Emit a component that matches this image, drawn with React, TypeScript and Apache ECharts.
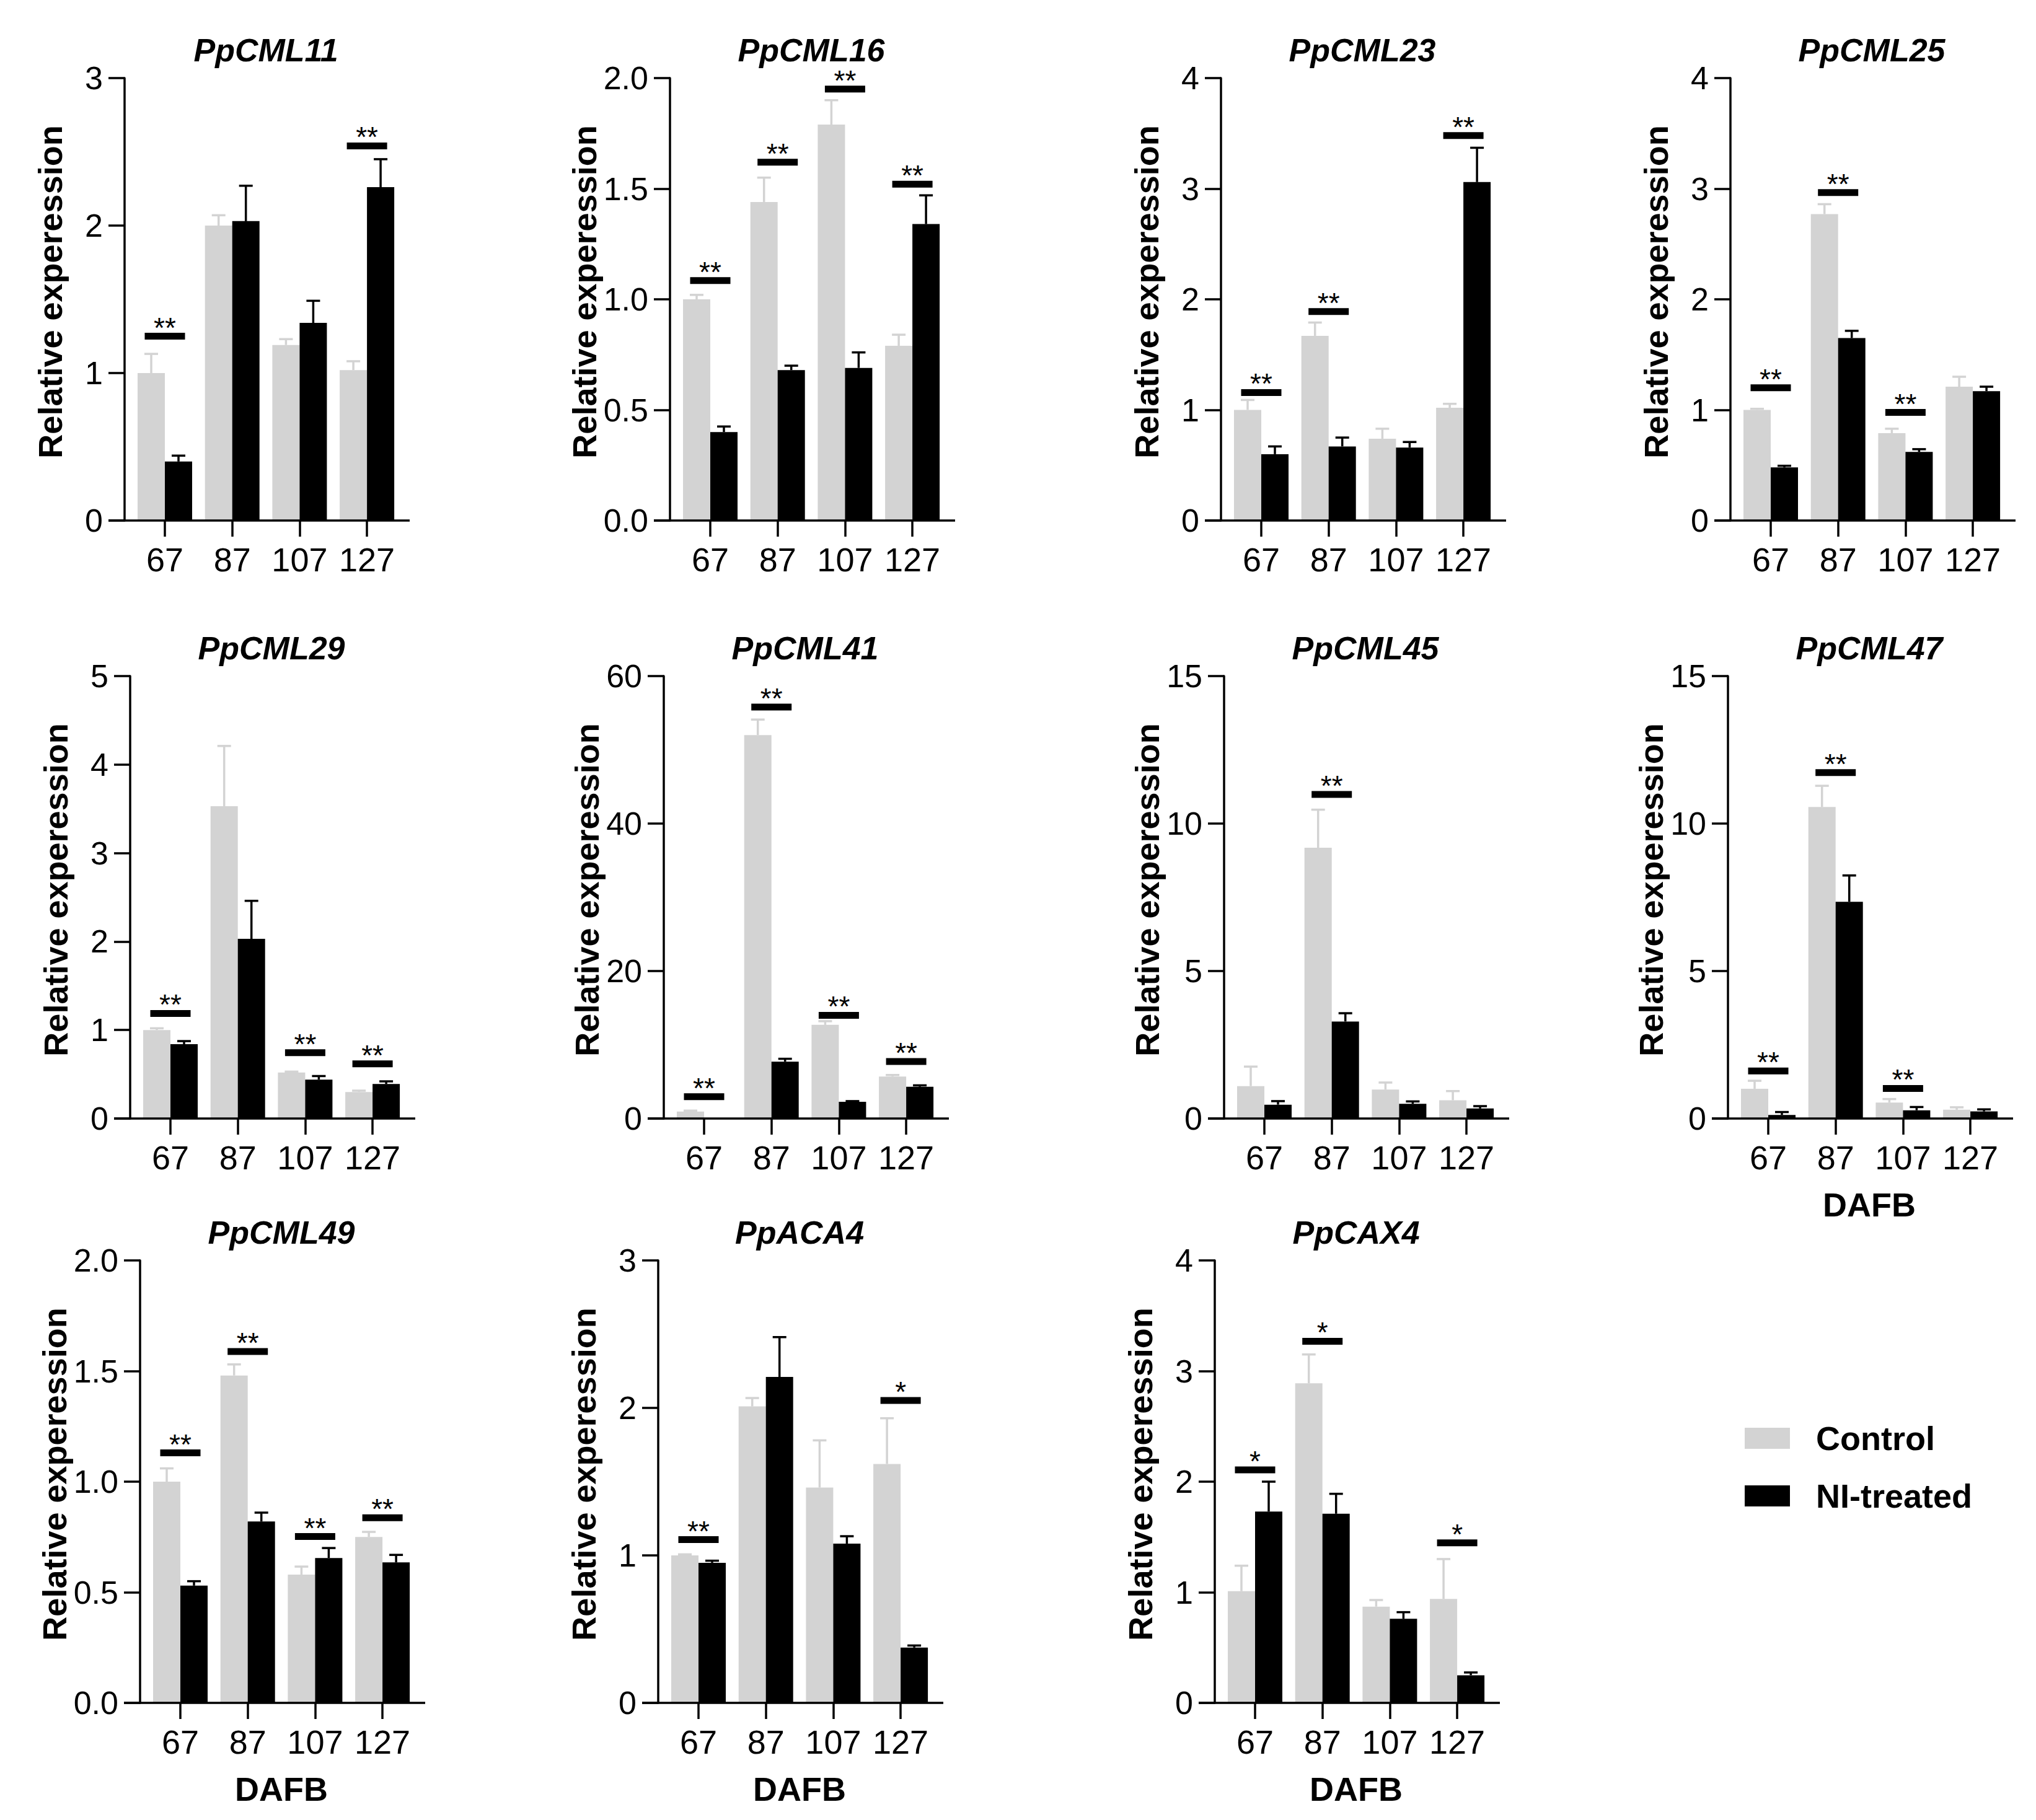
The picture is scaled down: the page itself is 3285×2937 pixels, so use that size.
import * as echarts from 'echarts';
import { useEffect, useRef } from 'react';

const days = ['67', '87', '107', '127'];
const genes = ['PpCML11', 'PpCML16', 'PpCML23', 'PpCML25', 'PpCML29', 'PpCML41', 'PpCML45', 'PpCML47', 'PpCML49', 'PpACA4', 'PpCAX4'];
const yMax = [3, 2, 4, 4, 5, 60, 15, 15, 2, 3, 4];
const yStep = [1, 0.5, 1, 1, 1, 20, 5, 5, 0.5, 1, 1];
const yDecimals = [0, 1, 0, 0, 0, 0, 0, 0, 1, 0, 0];

const controlMean = [
  [1.0, 2.0, 1.19, 1.02],
  [1.0, 1.44, 1.79, 0.79],
  [1.0, 1.67, 0.74, 1.02],
  [1.0, 2.77, 0.79, 1.21],
  [1.0, 3.53, 0.52, 0.3],
  [0.95, 52.0, 12.7, 5.7],
  [1.1, 9.18, 0.98, 0.62],
  [1.01, 10.56, 0.54, 0.3],
  [1.0, 1.48, 0.58, 0.75],
  [1.0, 2.01, 1.46, 1.62],
  [1.01, 2.89, 0.87, 0.94]
];
const controlErr = [
  [0.13, 0.07, 0.04, 0.06],
  [0.02, 0.11, 0.11, 0.05],
  [0.09, 0.12, 0.09, 0.035],
  [0.01, 0.09, 0.04, 0.09],
  [0.02, 0.68, 0.01, 0.015],
  [0.12, 2.1, 0.5, 0.2],
  [0.66, 1.29, 0.24, 0.31],
  [0.27, 0.72, 0.12, 0.08],
  [0.06, 0.05, 0.036, 0.023],
  [0.007, 0.057, 0.32, 0.31],
  [0.23, 0.26, 0.06, 0.36]
];
const treatedMean = [
  [0.4, 2.03, 1.34, 2.26],
  [0.4, 0.68, 0.69, 1.34],
  [0.6, 0.67, 0.66, 3.06],
  [0.48, 1.65, 0.62, 1.17],
  [0.84, 2.03, 0.44, 0.39],
  [0.03, 7.7, 2.26, 4.3],
  [0.47, 3.29, 0.5, 0.34],
  [0.12, 7.35, 0.28, 0.24],
  [0.53, 0.82, 0.655, 0.635],
  [0.95, 2.21, 1.08, 0.375],
  [1.73, 1.71, 0.76, 0.25]
];
const treatedErr = [
  [0.04, 0.24, 0.15, 0.19],
  [0.025, 0.02, 0.07, 0.13],
  [0.07, 0.08, 0.05, 0.31],
  [0.015, 0.065, 0.025, 0.04],
  [0.035, 0.43, 0.04, 0.03],
  [0, 0.4, 0.1, 0.2],
  [0.12, 0.28, 0.08, 0.08],
  [0.1, 0.89, 0.11, 0.07],
  [0.02, 0.04, 0.045, 0.034],
  [0.014, 0.27, 0.05, 0.014],
  [0.27, 0.18, 0.06, 0.025]
];
// significance marks: [category index, bar level, label]
const sigMarks: [number, number, string][][] = [
  [[0, 1.25, '**'], [3, 2.54, '**']],
  [[0, 1.085, '**'], [1, 1.62, '**'], [2, 1.95, '**'], [3, 1.52, '**']],
  [[0, 1.157, '**'], [1, 1.89, '**'], [3, 3.48, '**']],
  [[0, 1.2, '**'], [1, 2.965, '**'], [2, 0.977, '**']],
  [[0, 1.187, '**'], [2, 0.744, '**'], [3, 0.618, '**']],
  [[0, 2.96, '**'], [1, 55.8, '**'], [2, 14.0, '**'], [3, 7.74, '**']],
  [[1, 10.99, '**']],
  [[0, 1.61, '**'], [1, 11.73, '**'], [2, 1.02, '**']],
  [[0, 1.13, '**'], [1, 1.588, '**'], [2, 0.752, '**'], [3, 0.837, '**']],
  [[0, 1.107, '**'], [3, 2.05, '*']],
  [[0, 2.106, '*'], [1, 3.269, '*'], [3, 1.447, '*']]
];
const showDafb = [false, false, false, false, false, false, false, true, true, true, true];

const FONT = "'Liberation Sans', Arial, sans-serif";
const GRAY = '#d3d3d3';
const LINE_W = 3.5;
const BAR_W = 44;
const BAND = 108.7;
const PLOT_H = 714;
const TICK_LEN = 26;
const AXIS_TO_TICK = 65; // y-axis line to first category centre
const AXIS_RUN = 460; // y-axis line to end of the x-axis line

// panel layout (px): first category centre, plot top, y-name gap
const panels = [
  { firstTick: 266, top: 126, nameGap: 93 },
  { firstTick: 1146, top: 126, nameGap: 110 },
  { firstTick: 2035, top: 126, nameGap: 93 },
  { firstTick: 2857, top: 126, nameGap: 93 },
  { firstTick: 275, top: 1091, nameGap: 93 },
  { firstTick: 1136, top: 1091, nameGap: 97 },
  { firstTick: 2040, top: 1091, nameGap: 97 },
  { firstTick: 2853, top: 1091, nameGap: 97 },
  { firstTick: 291, top: 2034, nameGap: 110 },
  { firstTick: 1127, top: 2034, nameGap: 93 },
  { firstTick: 2025, top: 2034, nameGap: 93 }
];

const errorSeries = (i: number, means: number[], errs: number[], color: string, shift: number) => ({
  type: 'custom',
  xAxisIndex: i,
  yAxisIndex: i,
  z: 5,
  silent: true,
  data: means.map((m, k) => [k, m, errs[k]]),
  renderItem: (params: any, api: any) => {
    const k = api.value(0);
    const m = api.value(1);
    const e = api.value(2);
    if (!(e > 0)) return null;
    const base = api.coord([k, m]);
    const tip = api.coord([k, m + e]);
    const cx = base[0] + shift;
    const style = { stroke: color, lineWidth: LINE_W };
    return {
      type: 'group',
      children: [
        { type: 'line', shape: { x1: cx, y1: base[1], x2: cx, y2: tip[1] }, style },
        { type: 'line', shape: { x1: cx - 11, y1: tip[1], x2: cx + 11, y2: tip[1] }, style }
      ]
    };
  }
});

const sigSeries = (i: number) => ({
  type: 'custom',
  xAxisIndex: i,
  yAxisIndex: i,
  z: 6,
  silent: true,
  data: sigMarks[i].map((s) => [s[0], s[1]]),
  renderItem: (params: any, api: any) => {
    const p = api.coord([api.value(0), api.value(1)]);
    const label = sigMarks[i][params.dataIndex][2];
    return {
      type: 'group',
      children: [
        { type: 'rect', shape: { x: p[0] - 32.5, y: p[1] - 5.5, width: 65, height: 11 }, style: { fill: '#000' } },
        {
          type: 'text',
          x: p[0],
          y: p[1] - 14,
          style: {
            text: label,
            fill: '#000',
            fontSize: 46,
            fontFamily: FONT,
            textAlign: 'center',
            textVerticalAlign: 'middle',
            align: 'center',
            verticalAlign: 'middle'
          }
        }
      ]
    };
  }
});

const App: React.FC = () => {
  const chartRef = useRef<HTMLDivElement | null>(null);

  useEffect(() => {
    if (!chartRef.current) return;
    document.body.style.margin = '0';
    const chart = echarts.init(chartRef.current, null, { renderer: 'svg' });

    const grids = panels.map((p) => ({
      left: p.firstTick - BAND / 2,
      top: p.top,
      width: BAND * 4,
      height: PLOT_H,
      containLabel: false
    }));

    const xAxes = panels.map((p, i) => ({
      type: 'category',
      gridIndex: i,
      data: days,
      axisLine: { show: false },
      axisTick: { show: true, alignWithLabel: true, length: TICK_LEN, lineStyle: { color: '#000', width: LINE_W } },
      axisLabel: { interval: 0, margin: 36, color: '#000', fontSize: 54, fontFamily: FONT },
      name: showDafb[i] ? 'DAFB' : '',
      nameLocation: 'middle',
      nameGap: 112,
      nameTextStyle: { color: '#000', fontSize: 54, fontWeight: 'bold', fontFamily: FONT }
    }));

    const yAxes = panels.map((p, i) => ({
      type: 'value',
      gridIndex: i,
      min: 0,
      max: yMax[i],
      interval: yStep[i],
      offset: AXIS_TO_TICK - BAND / 2,
      axisLine: { show: true, lineStyle: { color: '#000', width: LINE_W } },
      axisTick: { show: true, length: TICK_LEN, lineStyle: { color: '#000', width: LINE_W } },
      splitLine: { show: false },
      axisLabel: {
        margin: 35,
        color: '#000',
        fontSize: 52,
        fontFamily: FONT,
        formatter: (v: number) => v.toFixed(yDecimals[i])
      },
      name: 'Relative experession',
      nameLocation: 'middle',
      nameRotate: 90,
      nameGap: p.nameGap,
      nameTextStyle: { color: '#000', fontSize: 54, fontWeight: 'bold', fontFamily: FONT, padding: [0, 0, 0, 24] }
    }));

    const series: any[] = [];
    panels.forEach((p, i) => {
      series.push({
        type: 'bar',
        name: 'Control',
        xAxisIndex: i,
        yAxisIndex: i,
        data: controlMean[i],
        barWidth: BAR_W,
        barGap: '0%',
        itemStyle: { color: GRAY }
      });
      series.push({
        type: 'bar',
        name: 'NI-treated',
        xAxisIndex: i,
        yAxisIndex: i,
        data: treatedMean[i],
        barWidth: BAR_W,
        barGap: '0%',
        itemStyle: { color: '#000' }
      });
      series.push(errorSeries(i, controlMean[i], controlErr[i], GRAY, -BAR_W / 2));
      series.push(errorSeries(i, treatedMean[i], treatedErr[i], '#000', BAR_W / 2));
      series.push(sigSeries(i));
    });

    // x-axis base lines run from the y-axis tick end past the last band
    const baseLines = panels.map((p) => {
      const axisX = p.firstTick - AXIS_TO_TICK;
      return {
        type: 'line',
        shape: { x1: axisX - TICK_LEN, y1: p.top + PLOT_H, x2: axisX + AXIS_RUN, y2: p.top + PLOT_H },
        style: { stroke: '#000', lineWidth: LINE_W },
        z: 10
      };
    });

    // gene names centred over each plot
    const titles = panels.map((p, i) => ({
      type: 'text',
      x: p.firstTick + BAND * 1.5,
      y: p.top - 45,
      style: {
        text: genes[i],
        fill: '#000',
        fontSize: 52,
        fontWeight: 'bold',
        fontStyle: 'italic',
        fontFamily: FONT,
        textAlign: 'center',
        textVerticalAlign: 'middle',
        align: 'center',
        verticalAlign: 'middle'
      }
    }));

    const option: any = {
      animation: false,
      backgroundColor: '#fff',
      grid: grids,
      xAxis: xAxes,
      yAxis: yAxes,
      series,
      graphic: [...baseLines, ...titles],
      legend: {
        orient: 'vertical',
        left: 2810,
        top: 2289,
        icon: 'rect',
        itemWidth: 73,
        itemHeight: 34,
        itemGap: 39,
        selectedMode: false,
        data: ['Control', 'NI-treated'],
        textStyle: { color: '#000', fontSize: 54, fontWeight: 'bold', fontFamily: FONT, padding: [0, 0, 0, 37] }
      }
    };

    chart.setOption(option);

    return () => {
      chart.dispose();
    };
  }, []);

  return <div ref={chartRef} style={{ width: 3285, height: 2937 }} />;
};

export default App;
